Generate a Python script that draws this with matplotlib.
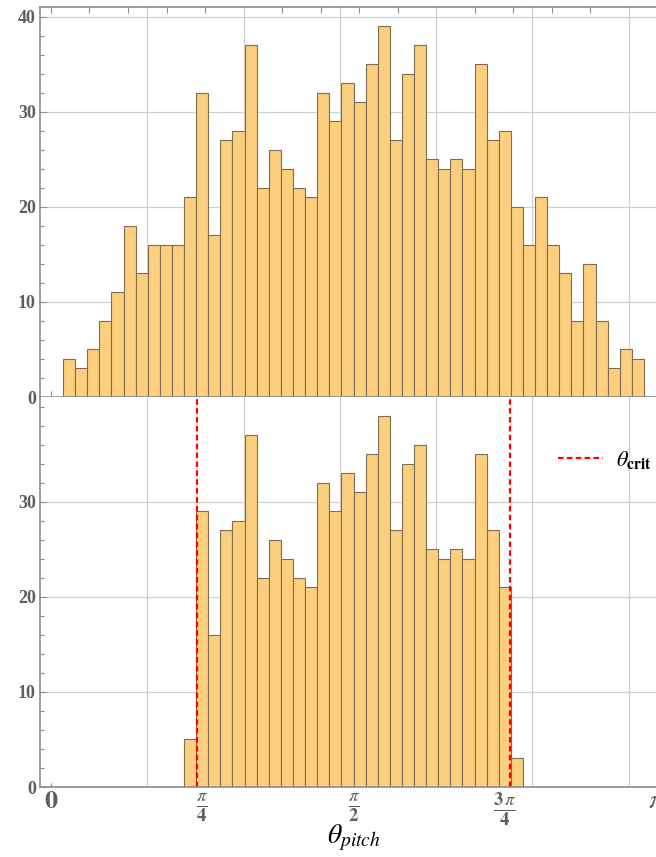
import numpy as np
import matplotlib
matplotlib.use("Agg")
import matplotlib.pyplot as plt

plt.rcParams['mathtext.fontset'] = 'stix'
plt.rcParams['font.family'] = ['Liberation Serif', 'DejaVu Serif']

# histogram of pitch angles, 50 bins over [0, pi]
n_bins = 50
top_first_bin = 1
top_counts = [4, 3, 5, 8, 11, 18, 13, 16, 16, 16, 21, 32, 17, 27, 28, 37,
              22, 26, 24, 22, 21, 32, 29, 33, 31, 35, 39, 27, 34, 37, 25, 24,
              25, 24, 35, 27, 28, 20, 16, 21, 16, 13, 8, 14, 8, 3, 5, 4]
bottom_first_bin = 11
bottom_counts = [5, 29, 16, 27, 28, 37, 22, 26, 24, 22, 21, 32, 29, 33, 31,
                 35, 39, 27, 34, 36, 25, 24, 25, 24, 35, 27, 21, 3]
theta_crit = 0.76

x_tick_pos = [0, np.pi / 4, np.pi / 2, 3 * np.pi / 4, np.pi]
x_tick_labels = [r'$\mathbf{0}$', r'$\frac{\pi}{\mathbf{4}}$', r'$\frac{\pi}{\mathbf{2}}$',
                 r'$\frac{\mathbf{3}\,\pi}{\mathbf{4}}$', r'$\pi$']

bar_color = '#FCCF7E'
edge_color = '#7d6d52'
frame_color = '#8c8c8c'
label_color = '#5e5e5e'
grid_color = '#d0d0d0'

edges = np.linspace(0, np.pi, n_bins + 1)
width = edges[1] - edges[0]

fig = plt.figure(figsize=(6.56, 8.57), dpi=100)
W, H = 656.0, 857.0
ax1 = fig.add_axes([40 / W, (H - 397) / H, 627 / W, 390 / H])
ax2 = fig.add_axes([40 / W, (H - 787) / H, 627 / W, 390 / H])


def style_axes(ax):
    ax.set_xlim(-0.057, np.pi + 0.057)
    ax.set_ylim(0, 41)
    for s in ['left', 'bottom', 'top', 'right']:
        ax.spines[s].set_color(frame_color)
        ax.spines[s].set_linewidth(1.2)
    ax.set_yticks(np.arange(0, 41, 2), minor=True)
    ax.tick_params(axis='y', which='both', direction='in', colors=frame_color,
                   labelcolor=label_color, labelsize=13, pad=3, width=0.8)
    ax.tick_params(axis='y', which='major', length=5)
    ax.tick_params(axis='y', which='minor', length=3)
    ax.set_axisbelow(True)


# top panel
style_axes(ax1)
lo = edges[top_first_bin:top_first_bin + len(top_counts)]
ax1.bar(lo, top_counts, width=width, align='edge', color=bar_color,
        edgecolor=edge_color, linewidth=0.8)
ax1.set_yticks([0, 10, 20, 30, 40])
ax1.set_yticklabels(['0', '10', '20', '30', '40'], fontweight='bold')
ax1.grid(axis='y', which='major', color=grid_color, lw=0.9)
ax1.set_xticks(np.arange(0.5, 3.01, 0.5))
ax1.set_xticks(np.arange(0, 3.15, 0.2), minor=True)
ax1.tick_params(axis='x', which='major', length=0, labelbottom=False)
ax1.tick_params(axis='x', which='minor', direction='in', length=4, top=True,
                colors=frame_color, width=0.8)
ax1.grid(axis='x', which='major', color=grid_color, lw=0.9)

# bottom panel
style_axes(ax2)
lo = edges[bottom_first_bin:bottom_first_bin + len(bottom_counts)]
ax2.bar(lo, bottom_counts, width=width, align='edge', color=bar_color,
        edgecolor=edge_color, linewidth=0.8)
ax2.set_yticks([0, 10, 20, 30])
ax2.set_yticklabels(['0', '10', '20', '30'], fontweight='bold')
ax2.grid(axis='y', which='major', color=grid_color, lw=0.9)
ax2.set_xticks(x_tick_pos)
ax2.set_xticklabels(x_tick_labels)
ax2.set_xticks(np.arange(0.5, 3.01, 0.5), minor=True)
ax2.tick_params(axis='x', which='major', direction='in', length=3,
                colors=frame_color, labelcolor=label_color, labelsize=19, pad=3)
ax2.tick_params(axis='x', which='minor', length=0)
ax2.grid(axis='x', which='minor', color=grid_color, lw=0.9)
ax2.spines['top'].set_visible(False)

ax2.axvline(theta_crit, color='red', ls=(0, (2.5, 1.5)), lw=1.6, label=r'$\theta_{\mathbf{crit}}$')
ax2.axvline(np.pi - theta_crit, color='red', ls=(0, (2.5, 1.5)), lw=1.6)
ax2.legend(loc='center left', bbox_to_anchor=(0.795, 0.838), frameon=False,
           fontsize=16, handlelength=2.0, handletextpad=0.6)

ax2.set_xlabel(r'$\theta_{pitch}$', fontsize=20, labelpad=-5, color='black')

fig.savefig('out.png', dpi=100)
